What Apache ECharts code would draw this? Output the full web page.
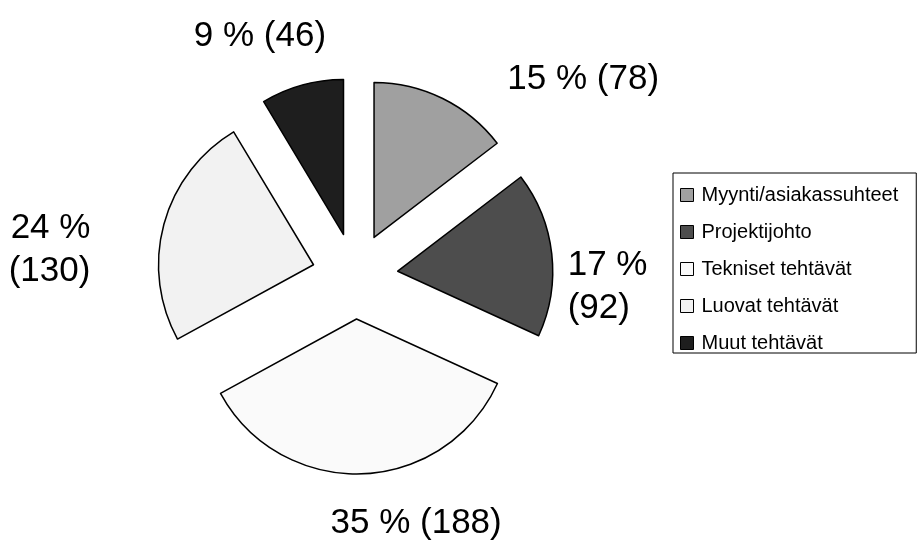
<!DOCTYPE html>
<html>
<head>
<meta charset="utf-8">
<script src="https://cdn.jsdelivr.net/npm/echarts@6/dist/echarts.min.js"></script>
<style>
  html, body { margin: 0; padding: 0; background: #fff; }
  #chart { width: 917px; height: 545px; }
</style>
</head>
<body>
<div id="chart"></div>
<script>
// tehtäväalueet ja vastausmäärät
var categories = ['Myynti/asiakassuhteet', 'Projektijohto', 'Tekniset tehtävät', 'Luovat tehtävät', 'Muut tehtävät'];
var counts = [78, 92, 188, 130, 46];
var sliceColors = ['#a0a0a0', '#4d4d4d', '#fafafa', '#f2f2f2', '#1e1e1e'];
// nämä nimikkeet rivitetään kahdelle riville
var twoLineLabels = ['Projektijohto', 'Luovat tehtävät'];
// tekstien siirto kirjaston oletuspaikasta (px)
var labelNudge = [[43, -6], [-14, 35], [-47, 34], [-44, 30], [43, -34]];

var myChart = echarts.init(document.getElementById('chart'));

var pieData = categories.map(function (name, i) {
  return {
    name: name,
    value: counts[i],
    selected: true,
    itemStyle: { color: sliceColors[i] }
  };
});

var options = {
  animation: false,
  legend: {
    orient: 'vertical',
    left: 673,
    top: 173,
    padding: [12, 18, 0, 7],
    itemGap: 17,
    itemWidth: 13,
    itemHeight: 13,
    icon: 'rect',
    borderColor: '#000',
    borderWidth: 1,
    selectedMode: false,
    itemStyle: { borderColor: '#000', borderWidth: 1 },
    textStyle: {
      fontFamily: 'Liberation Sans',
      fontSize: 20,
      color: '#000',
      padding: [0, 0, 0, 3]
    },
    data: categories
  },
  series: [
    {
      type: 'pie',
      center: [355, 276],
      radius: 155,
      startAngle: 90,
      clockwise: true,
      selectedMode: 'multiple',
      selectedOffset: 43,
      avoidLabelOverlap: false,
      itemStyle: { borderColor: '#000', borderWidth: 1.5 },
      emphasis: { disabled: true },
      label: {
        show: true,
        position: 'outside',
        fontFamily: 'Liberation Sans',
        fontSize: 35,
        lineHeight: 43,
        color: '#000',
        formatter: function (p) {
          var pct = Math.round(p.percent) + ' %';
          var sep = twoLineLabels.indexOf(p.name) >= 0 ? '\n' : ' ';
          return pct + sep + '(' + p.value + ')';
        }
      },
      labelLine: { show: false, length: 15, length2: 10 },
      labelLayout: function (params) {
        var n = labelNudge[params.dataIndex];
        return { dx: n[0], dy: n[1] };
      },
      data: pieData
    }
  ]
};

myChart.setOption(options, true);
</script>
</body>
</html>
